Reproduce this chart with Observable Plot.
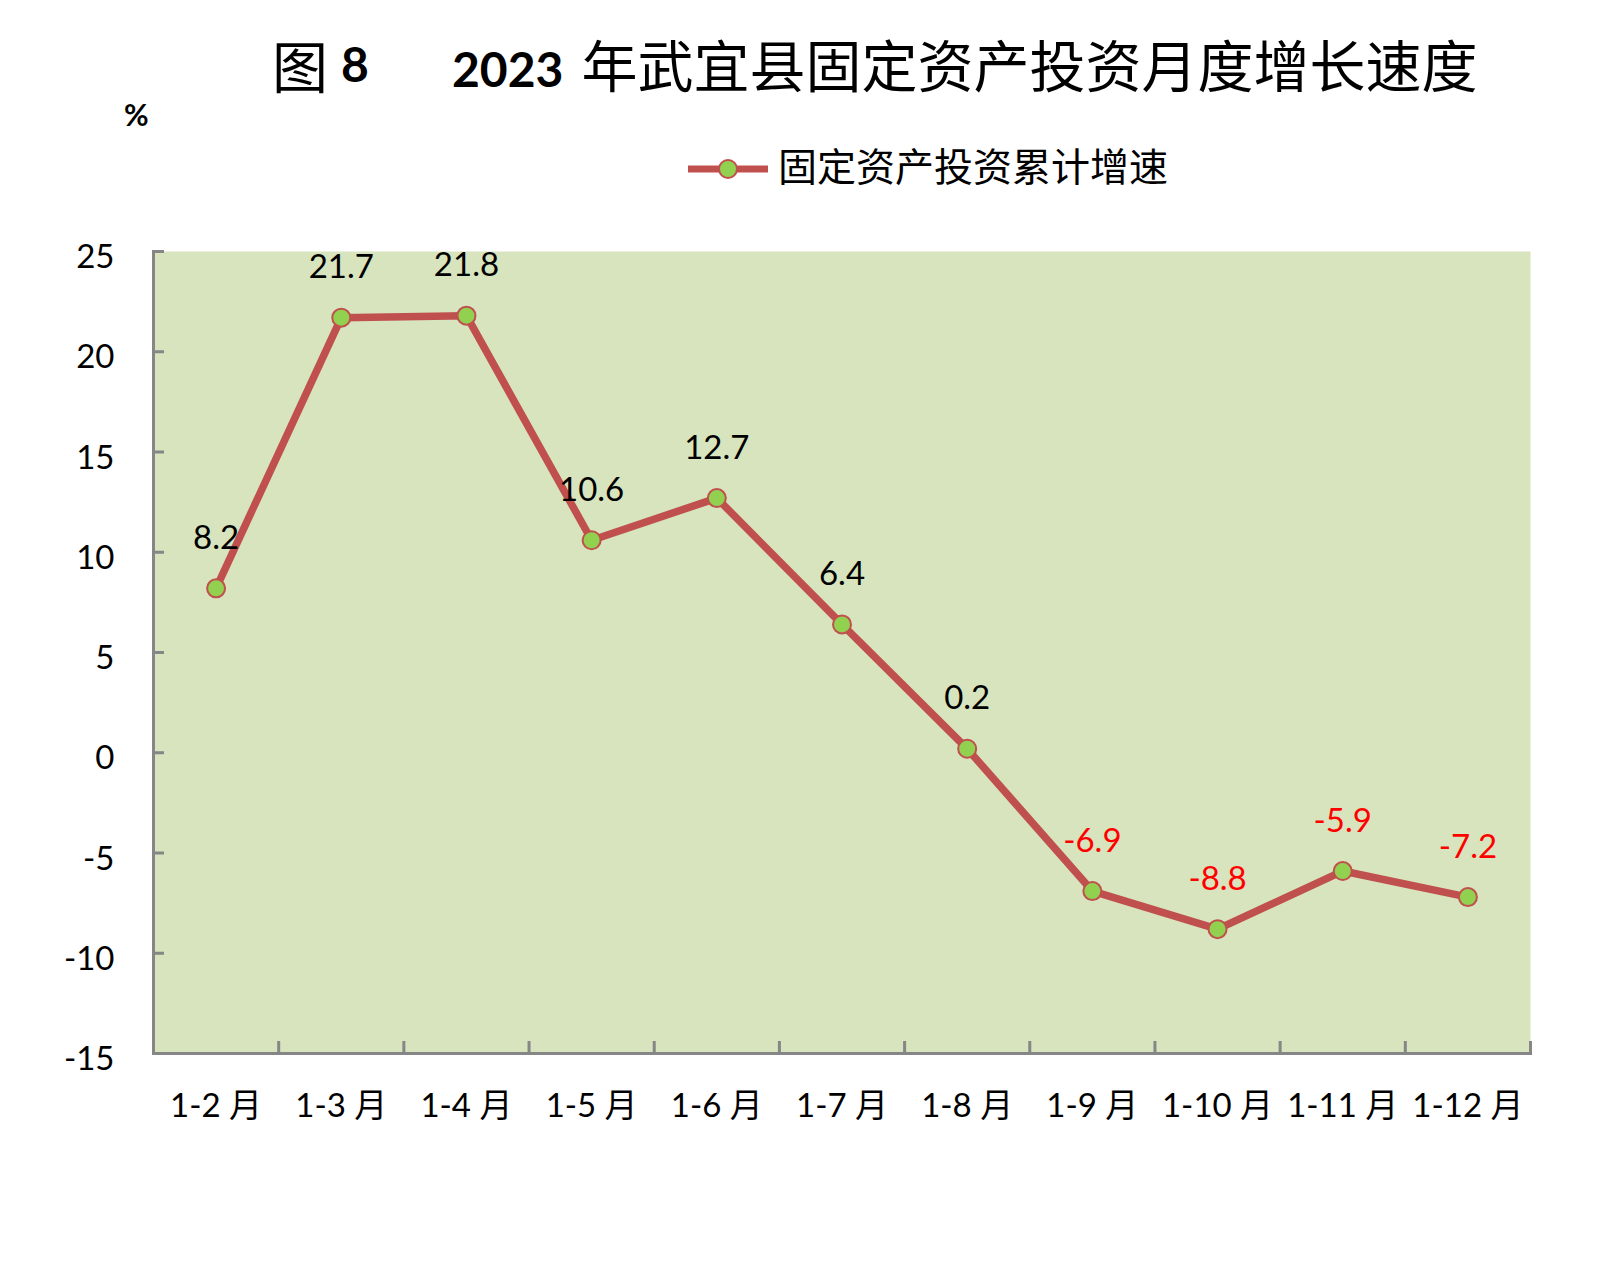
<!DOCTYPE html>
<html>
<head>
<meta charset="utf-8">
<script src="https://cdn.jsdelivr.net/npm/d3@7"></script>
<script src="https://cdn.jsdelivr.net/npm/@observablehq/plot@0.6"></script>
<style>
  html, body { margin: 0; padding: 0; background: #fff; }
  #page { width: 1623px; }
  #header { position: relative; width: 1623px; height: 200px; }
  .abs { position: absolute; transform: translateY(-50%); line-height: 1; white-space: nowrap; color: #000; }
  .cjk { font-family: "Noto Sans CJK SC", sans-serif; }
  .lat { font-family: Lato, "Noto Sans CJK SC", sans-serif; }
</style>
</head>
<body>
<div id="page">
  <div id="header"></div>
  <div id="chart"></div>
</div>
<script>
// ---- data ----
const categories = ["1-2 月", "1-3 月", "1-4 月", "1-5 月", "1-6 月", "1-7 月", "1-8 月", "1-9 月", "1-10 月", "1-11 月", "1-12 月"];
const growth = [8.2, 21.7, 21.8, 10.6, 12.7, 6.4, 0.2, -6.9, -8.8, -5.9, -7.2];
const yTicks = [-15, -10, -5, 0, 5, 10, 15, 20, 25];
const titleFig = "图";
const titleNum = "8";
const titleYear = "2023";
const titleText = "年武宜县固定资产投资月度增长速度";
const unitLabel = "%";
const seriesName = "固定资产投资累计增速";

const lineColor = "#C0504D";
const markerFill = "#92D050";
const bgColor = "#D7E4BD";
const axisColor = "#868686";

// ---- header (title, unit, legend) ----
const header = document.getElementById("header");
function addDiv(html, cls, style) {
  const d = document.createElement("div");
  d.className = "abs " + cls;
  d.innerHTML = html;
  Object.assign(d.style, style);
  header.appendChild(d);
  return d;
}
addDiv(titleFig, "cjk", {left: "272px", top: "64px", fontSize: "56px"});
addDiv(titleNum, "lat", {left: "341px", top: "64px", fontSize: "48px", fontWeight: "bold"});
addDiv(`<span class="lat" style="font-size:48px;font-weight:bold">${titleYear}</span><span class="cjk" style="font-size:56px;margin-left:18px">${titleText}</span>`, "", {left: "452px", top: "64px"});
addDiv(unitLabel, "lat", {left: "124px", top: "114px", fontSize: "30px", fontWeight: "bold"});
addDiv(`<svg width="84" height="26" style="display:block"><line x1="2" y1="13" x2="82" y2="13" stroke="${lineColor}" stroke-width="7"/><circle cx="42" cy="13" r="9" fill="${markerFill}" stroke="${lineColor}" stroke-width="2"/></svg>`, "", {left: "686px", top: "169px"});
addDiv(seriesName, "cjk", {left: "778px", top: "164px", fontSize: "39px"});

// ---- chart ----
const data = categories.map((c, i) => ({cat: c, i, x: i + 0.5, v: growth[i]}));

const chart = Plot.plot({
  width: 1623,
  height: 1063,
  marginTop: 51,
  marginBottom: 210,
  marginLeft: 153,
  marginRight: 93,
  style: {fontFamily: "Lato, 'Noto Sans CJK SC', sans-serif", color: "#000", background: "#fff", overflow: "visible"},
  x: {domain: [0, categories.length], axis: null, label: null},
  y: {domain: [-15, 25], axis: null, label: null},
  marks: [
    Plot.frame({fill: bgColor, stroke: "none"}),
    Plot.frame({anchor: "left", stroke: axisColor, strokeWidth: 3}),
    Plot.frame({anchor: "bottom", stroke: axisColor, strokeWidth: 3}),
    // inward y ticks
    Plot.axisY({ticks: yTicks, tickSize: 11, dx: 11, tickFormat: () => "", label: null, stroke: axisColor, strokeWidth: 3}),
    // y tick labels
    Plot.axisY({ticks: yTicks, tickSize: 0, tickPadding: 39, dy: 6, tickFormat: d => String(d), label: null, fontSize: 33, fill: "#000"}),
    // upward x ticks at category boundaries
    Plot.axisX({ticks: d3.range(categories.length + 1), tickSize: 12, dy: -12, tickFormat: () => "", label: null, stroke: axisColor, strokeWidth: 3}),
    // x category labels
    Plot.text(data, {x: "x", text: "cat", frameAnchor: "bottom", dy: 53, fontSize: 33, fill: "#000", textAnchor: "middle", lineAnchor: "middle"}),
    // series line
    Plot.line(data, {x: "x", y: "v", stroke: lineColor, strokeWidth: 7.5, strokeLinejoin: "round", strokeLinecap: "round"}),
    Plot.dot(data, {x: "x", y: "v", r: 9, fill: markerFill, stroke: lineColor, strokeWidth: 2}),
    // value labels
    Plot.text(data, {x: "x", y: "v", text: d => String(d.v), dy: -50, fontSize: 33, fill: d => d.v < 0 ? "#FF0000" : "#000", lineAnchor: "middle"})
  ]
});
document.getElementById("chart").appendChild(chart);
</script>
</body>
</html>
